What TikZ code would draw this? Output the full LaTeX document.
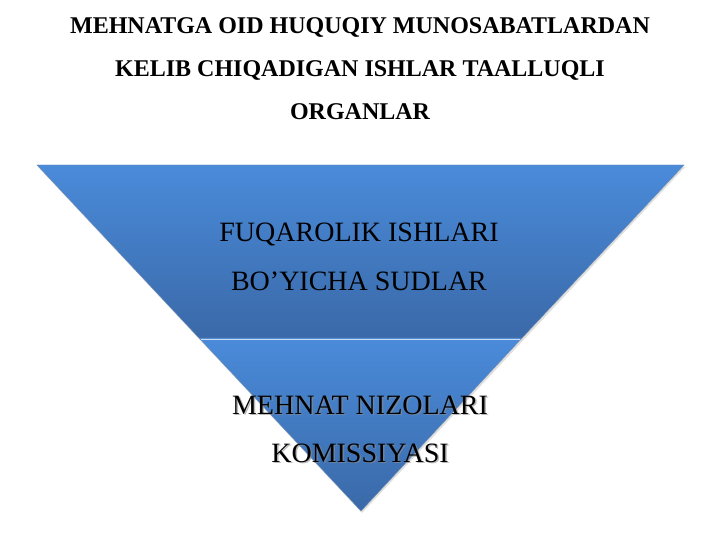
\documentclass[tikz,border=0pt]{standalone}
\usepackage{fontspec}
\setmainfont{Liberation Serif}
\usetikzlibrary{calc}
\definecolor{topblue}{HTML}{4A8BDA}
\definecolor{botblue}{HTML}{3A69A8}
\definecolor{edgeblue}{HTML}{2F5A90}
\tikzset{
  titletext/.style={font=\fontsize{24}{28}\selectfont\bfseries, inner sep=0pt, anchor=base},
  bodytext/.style={font=\fontsize{28}{32}\selectfont, inner sep=0pt, anchor=base},
  shadowtext/.style={bodytext, text=black!45, opacity=0.6},
  seg/.style={draw=edgeblue!70, line width=0.4pt}
}
\begin{document}
\begin{tikzpicture}[x=1pt,y=-1pt]
\useasboundingbox[fill=white] (0,0) rectangle (720,540);
\coordinate (TL) at (37,165);
\coordinate (TR) at (684,165);
\coordinate (ML) at (199,338);
\coordinate (MR) at (522,338);
\coordinate (A) at (361,511);
% shadow under shapes
\fill[black!25, opacity=0.5] ($(TL)+(1,2)$) -- ($(TR)+(1,2)$) -- ($(A)+(1,2)$) -- cycle;
\shade[top color=topblue, bottom color=botblue, seg] (TL) -- (TR) -- (MR) -- (ML) -- cycle;
\shade[top color=topblue, bottom color=botblue, seg] (ML) -- (MR) -- (A) -- cycle;
\draw[white!70!topblue, line width=0.8pt] ($(ML)+(2,1.5)$) -- ($(MR)+(-2,1.5)$);
\node[titletext] (t1) at (360,34) {MEHNATGA OID HUQUQIY MUNOSABATLARDAN};
\node[titletext] (t2) at (360,77) {KELIB CHIQADIGAN ISHLAR TAALLUQLI};
\node[titletext] (t3) at (360,120) {ORGANLAR};
\node[bodytext] (b1) at (359,241) {FUQAROLIK ISHLARI};
\node[bodytext] (b2) at (359,290) {BO’YICHA SUDLAR};
\node[shadowtext] (c1s) at (361.5,415.5) {MEHNAT NIZOLARI};
\node[shadowtext] (c2s) at (361.5,463.5) {KOMISSIYASI};
\node[bodytext] (c1) at (360,414) {MEHNAT NIZOLARI};
\node[bodytext] (c2) at (360,462) {KOMISSIYASI};
\end{tikzpicture}
\end{document}
